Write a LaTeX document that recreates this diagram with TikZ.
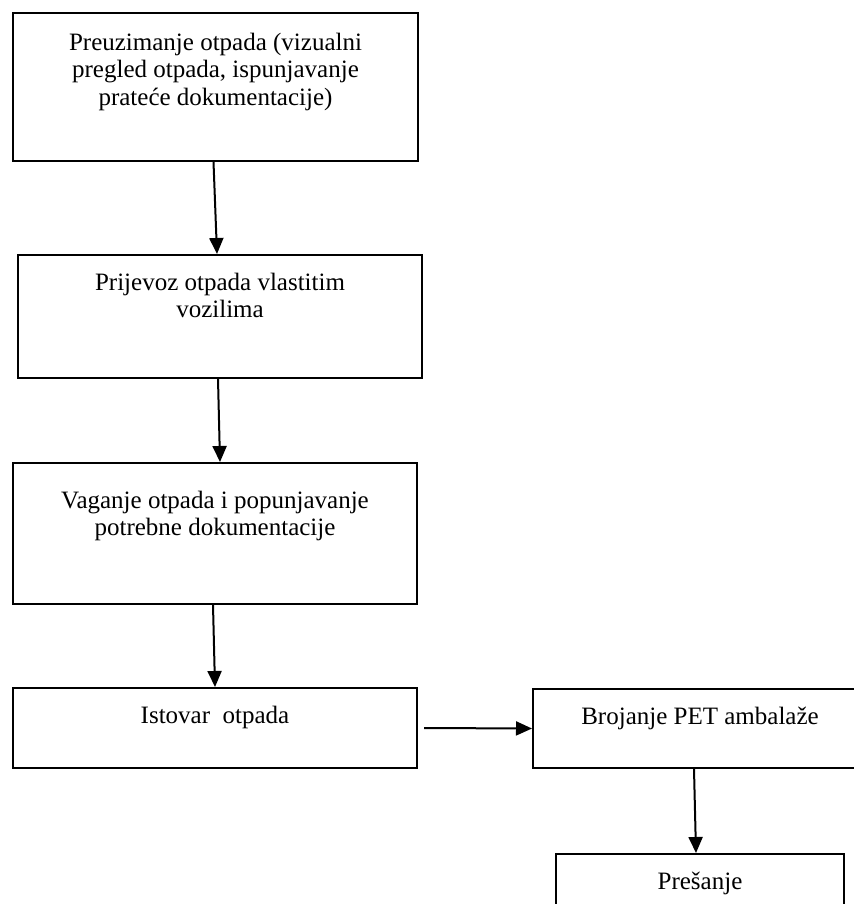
\documentclass[tikz,border=0pt]{standalone}
\usepackage{fontspec}
\setmainfont{Liberation Serif}
\usetikzlibrary{arrows.meta}

\begin{document}
\begin{tikzpicture}[x=0.5pt, y=-0.5pt]

% -------------------------------------------------------
% Layout parameters (in px of the page)
% -------------------------------------------------------
\def\lw{1pt}      % line width of boxes and arrows
\def\tdrop{9.5pt} % drop of the text below the top edge

\tikzstyle{stepbox} = [draw, line width=\lw, rectangle, anchor=north west, inner sep=0pt];
\tikzstyle{steptext} = [anchor=north, align=center, inner sep=0pt, font=\fontsize{12.5}{13.6}\selectfont];
\tikzstyle{flow} = [line width=\lw, -{Triangle[width=7pt, length=8pt]}];

\useasboundingbox (0,0) rectangle (854,904);
\clip (0,0) rectangle (854,904);

%%%%%% BOXES
\node[stepbox, minimum width=202.5pt, minimum height=74pt] (preuz) at (12,12) {};
\node[steptext, yshift=-\tdrop-1pt] (preuzT) at (preuz.north) {Preuzimanje otpada (vizualni\\pregled otpada, ispunjavanje\\prateće dokumentacije)};

\node[stepbox, minimum width=202pt, minimum height=61.5pt] (prijevoz) at (17,254) {};
\node[steptext, yshift=-\tdrop] (prijevozT) at (prijevoz.north) {Prijevoz otpada vlastitim\\vozilima};

\node[stepbox, minimum width=202pt, minimum height=70.5pt] (vaganje) at (12,462) {};
\node[steptext, yshift=-\tdrop-5pt] (vaganjeT) at (vaganje.north) {Vaganje otpada i popunjavanje\\potrebne dokumentacije};

\node[stepbox, minimum width=202pt, minimum height=40pt] (istovar) at (12,687) {};
\node[steptext, yshift=-\tdrop] (istovarT) at (istovar.north) {Istovar~ otpada};

\node[stepbox, minimum width=167pt, minimum height=39.5pt] (brojanje) at (532,688) {};
\node[steptext, yshift=-\tdrop] (brojanjeT) at (brojanje.north) {Brojanje PET ambalaže};

\node[stepbox, minimum width=144pt, minimum height=40pt] (presanje) at (555,853) {};
\node[steptext, yshift=-\tdrop] (presanjeT) at (presanje.north) {Prešanje};

%%%%%% ARROWS
\draw[flow] ([xshift=-1pt]preuz.south) -- ([xshift=-1.5pt]prijevoz.north);
\draw[flow] ([xshift=-1pt]prijevoz.south) -- ([xshift=2.5pt]vaganje.north);
\draw[flow] ([xshift=-1pt]vaganje.south) -- (istovar.north);
\coordinate (istovarOut) at ([xshift=3pt]istovar.east);
\draw[flow] (istovarOut) -- (brojanje.west);
\draw[flow] ([xshift=-3pt]brojanje.south) -- ([xshift=-2pt]presanje.north);

\end{tikzpicture}
\end{document}
